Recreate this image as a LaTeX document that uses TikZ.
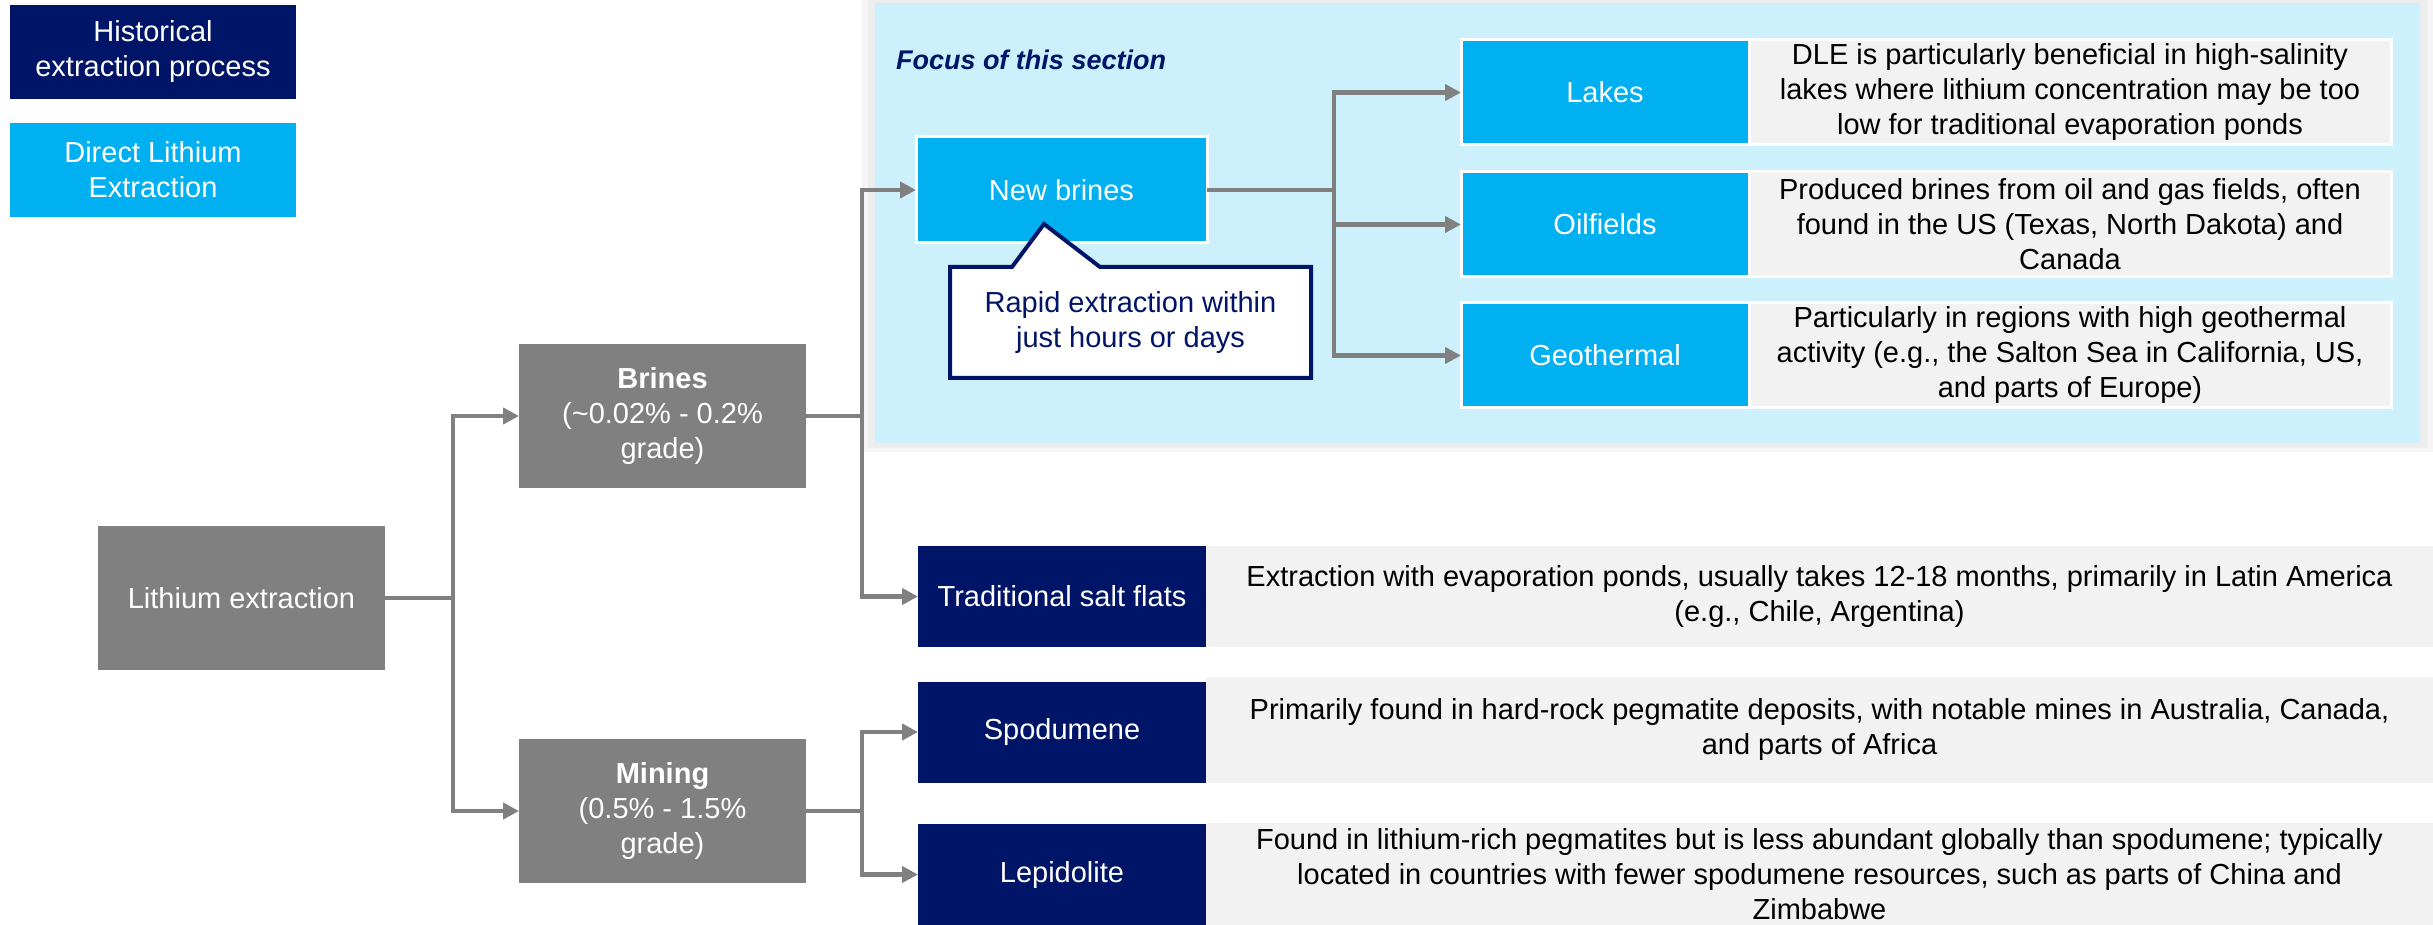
\documentclass[tikz,border=0pt]{standalone}
\usepackage{fontspec}
\setmainfont{Liberation Sans}
\usetikzlibrary{arrows.meta}
\definecolor{navy}{RGB}{0,20,104}
\definecolor{dleblue}{RGB}{0,176,240}
\definecolor{focusbg}{RGB}{204,240,252}
\definecolor{boxgray}{RGB}{128,128,128}
\definecolor{descgray}{RGB}{242,242,242}
\begin{document}
\begin{tikzpicture}[x=0.5pt, y=-0.5pt,
  >={Triangle[length=8pt,width=8pt]},
  every node/.style={font=\fontsize{14.5}{17.5}\selectfont, align=center, inner sep=0pt, outer sep=0pt},
  graybox/.style={fill=boxgray, text=white, minimum width=143.5pt, minimum height=72pt},
  histbox/.style={fill=navy, text=white, minimum width=144pt, minimum height=50.5pt},
  dlebox/.style={fill=dleblue, draw=white, line width=1.5pt, text=white, minimum width=144pt, minimum height=52.5pt},
  desc/.style={fill=descgray, text=black, minimum height=50.5pt},
  arr/.style={->, color=boxgray, line width=2.25pt},
]
\useasboundingbox (0,0) rectangle (2433,925);

\fill[black!4] (862,0) rectangle (2433,452);
\fill[black!7] (868,0) rectangle (2427,448);
\fill[focusbg] (875,3) rectangle (2420,443);

\node[fill=navy, text=white, minimum width=143pt, minimum height=47pt] (keyhist) at (153,52) {Historical\\extraction process};
\node[fill=dleblue, text=white, minimum width=143pt, minimum height=47pt] (keydle) at (153,170) {Direct Lithium\\Extraction};

\node[anchor=west, text=navy, font=\fontsize{13.5}{17.5}\selectfont\bfseries\itshape] (focus) at (896,60) {Focus of this section};

\coordinate (j1) at (453,598);
\coordinate (j2) at (862,416);
\coordinate (j3) at (862,811);
\coordinate (j4) at (1334,190);

\node[graybox] (lith) at (241.5,598) {Lithium extraction};
\node[graybox] (brines) at (662.5,416) {\textbf{Brines}\\(\textasciitilde0.02\% - 0.2\%\\grade)};
\node[graybox] (mining) at (662.5,811) {\textbf{Mining}\\(0.5\% - 1.5\%\\grade)};

\node[dlebox, minimum width=145.5pt, minimum height=53pt] (newbr) at (1061.5,190) {New brines};
\node[dlebox] (lakes) at (1605,92.5) {Lakes};
\node[dlebox] (oil) at (1605,224.5) {Oilfields};
\node[dlebox] (geo) at (1605,355.5) {Geothermal};
\node[desc, draw=white, line width=1.5pt, minimum width=321pt, minimum height=52.5pt] (lakesdesc) at (2070,92.5) {DLE is particularly beneficial in high-salinity\\lakes where lithium concentration may be too\\low for traditional evaporation ponds};
\node[desc, draw=white, line width=1.5pt, minimum width=321pt, minimum height=52.5pt] (oildesc) at (2070,224.5) {Produced brines from oil and gas fields, often\\found in the US (Texas, North Dakota) and\\Canada};
\node[desc, draw=white, line width=1.5pt, minimum width=321pt, minimum height=52.5pt] (geodesc) at (2070,355.5) {Particularly in regions with high geothermal\\activity (e.g., the Salton Sea in California, US,\\and parts of Europe)};

\node[histbox] (trad) at (1062,596.5) {Traditional salt flats};
\node[histbox] (spod) at (1062,732) {Spodumene};
\node[histbox] (lepi) at (1062,874.5) {Lepidolite};
\node[desc, minimum width=613.5pt] (traddesc) at (1819.5,596.5) {Extraction with evaporation ponds, usually takes 12-18 months, primarily in Latin America\\(e.g., Chile, Argentina)};
\node[desc, minimum width=613.5pt, minimum height=53pt] (spoddesc) at (1819.5,730) {Primarily found in hard-rock pegmatite deposits, with notable mines in Australia, Canada,\\and parts of Africa};
\node[desc, minimum width=613.5pt, minimum height=51pt] (lepidesc) at (1819.5,874) {Found in lithium-rich pegmatites but is less abundant globally than spodumene; typically\\located in countries with fewer spodumene resources, such as parts of China and\\Zimbabwe};

\filldraw[fill=white, draw=navy, line width=2pt] (950,267) -- (1012,267) -- (1044,224) -- (1100,267) -- (1311,267) -- (1311,378) -- (950,378) -- cycle;
\node[text=navy] (note) at (1130.5,322.5) {Rapid extraction within\\just hours or days};

\draw[arr] (lith.east) -- (j1) |- (brines.west);
\draw[arr] (j1) |- (mining.west);
\draw[arr] (brines.east) -- (j2) |- (newbr.west);
\draw[arr] (j2) |- (trad.west);
\draw[arr] (mining.east) -- (j3) |- (spod.west);
\draw[arr] (j3) |- (lepi.west);
\draw[arr] (newbr.east) -- (j4) |- (lakes.west);
\draw[arr] (j4) |- (oil.west);
\draw[arr] (j4) |- (geo.west);
\end{tikzpicture}
\end{document}
